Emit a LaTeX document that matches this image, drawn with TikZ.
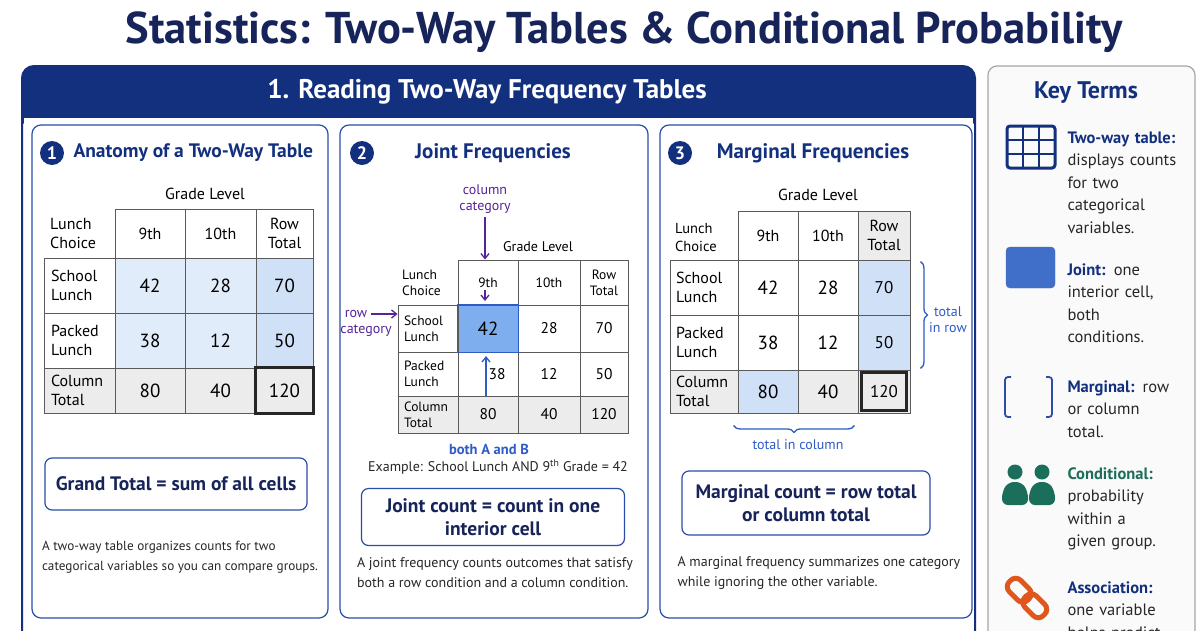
\documentclass[tikz,border=0pt]{standalone}
\usepackage{fontspec}
\setmainfont{PT Sans}
\setsansfont{PT Sans}
\usepackage{tikz}
\usetikzlibrary{arrows.meta, positioning, decorations.pathreplacing, calc}
\definecolor{TitleNavy}{HTML}{17245A}
\definecolor{Navy}{HTML}{13307F}
\definecolor{PanelBlue}{HTML}{2B4FA8}
\definecolor{GridGray}{HTML}{5A5A5A}
\definecolor{LightShade}{HTML}{E1ECFA}
\definecolor{MidShade}{HTML}{CFE0F7}
\definecolor{JointBlue}{HTML}{7FAEEE}
\definecolor{CellGray}{HTML}{ECECEC}
\definecolor{LabelPurple}{HTML}{55249A}
\definecolor{LabelBlue}{HTML}{2E5BC6}
\definecolor{KeyGreen}{HTML}{1B6E5A}
\definecolor{KeyOrange}{HTML}{E0561B}
\definecolor{KeyBlue}{HTML}{3F6FC9}
\tikzset{
  % Panel styles
  mainpanel/.style={draw=Navy, line width=2pt, rounded corners=12pt, fill=white},
  subpanel/.style={draw=PanelBlue, line width=1.2pt, rounded corners=9pt, fill=white},
  notebox/.style={draw=PanelBlue, line width=1.2pt, rounded corners=7pt, fill=white, align=center, text=TitleNavy, font=\fontsize{19.5}{23}\selectfont\bfseries},
  % Text styles
  paneltitle/.style={text=Navy, font=\fontsize{21}{24}\selectfont\bfseries},
  numdot/.style={circle, fill=Navy, text=white, minimum size=24pt, inner sep=0pt, font=\fontsize{18}{18}\selectfont\bfseries},
  caption/.style={text=black!85, align=left, font=\fontsize{14}{20}\selectfont},
  keyterm/.style={anchor=north west, align=left, text width=124pt, font=\fontsize{16.5}{22.5}\selectfont, text=black!85},
  % Table styles
  cell/.style={draw=GridGray, line width=0.9pt, inner sep=0pt, align=center, font=\fontsize{19}{20}\selectfont},
  lcell/.style={cell, align=left, font=\fontsize{16}{19}\selectfont},
  scell/.style={cell, font=\fontsize{15.5}{17}\selectfont},
  slcell/.style={cell, align=left, font=\fontsize{13.5}{16}\selectfont},
  hcell/.style={inner sep=0pt, align=left, font=\fontsize{16}{19}\selectfont},
  % Arrow styles
  purplearrow/.style={-{Straight Barb[length=5pt,width=8pt]}, line width=1.3pt, LabelPurple},
  bluearrow/.style={-{Straight Barb[length=5pt,width=8pt]}, line width=1.3pt, LabelBlue},
  bracebl/.style={decorate, decoration={brace, amplitude=7pt}, line width=1.3pt, LabelBlue}
}
\begin{document}
\begin{tikzpicture}[x=1pt, y=-1pt]
  \useasboundingbox (0,0) rectangle (1200,630);
  \fill[white] (0,0) rectangle (1200,630);

  % Title
  \node[text=TitleNavy, font=\fontsize{44.5}{48}\selectfont\bfseries] (title) at (624,32) {Statistics: Two-Way Tables \& Conditional Probability};

  % Main panel
  \draw[mainpanel] (22,66) rectangle (975,660);
  \fill[Navy, rounded corners=12pt] (22,66) rectangle (975,130);
  \fill[white] (24,118) rectangle (973,140);
  \node[text=white, font=\fontsize{27}{30}\selectfont\bfseries] (sectitle) at (487,92) {1. Reading Two-Way Frequency Tables};

  \draw[subpanel] (32,125) rectangle (328,618);
  \draw[subpanel] (340,125) rectangle (648,618);
  \draw[subpanel] (660,125) rectangle (972,618);

  % Panel titles
  \node[numdot] (n1) at (52,153) {1};
  \node[paneltitle, anchor=west, font=\fontsize{19.5}{24}\selectfont\bfseries] (t1) at (70,153) {Anatomy of a Two-Way Table};
  \node[numdot] (n2) at (362,153) {2};
  \node[paneltitle] (t2) at (493,153) {Joint Frequencies};
  \node[numdot] (n3) at (680,153) {3};
  \node[paneltitle] (t3) at (813,153) {Marginal Frequencies};

  % ---------- Table 1: anatomy ----------
  \fill[LightShade] (115,258) rectangle (256,368);
  \fill[MidShade] (256,258) rectangle (313,368);
  \fill[CellGray] (44,368) rectangle (313,413);
  \node[hcell] (a-grade) at (205,194) {Grade Level};
  \node[hcell, anchor=west] (a-lab) at (50,233.5) {Lunch\\Choice};
  \foreach \cx/\w/\t [count=\i] in {150/70/9th, 220.5/71/10th, 284.5/57/{Row\\Total}}
    \node[lcell, align=center, minimum width=\w pt, minimum height=49pt] (a-h\i) at (\cx,233.5) {\t};
  \foreach \cy/\h/\l/\a/\b/\c [count=\r] in {285.5/55/{School\\Lunch}/42/28/70, 340.5/55/{Packed\\Lunch}/38/12/50, 390.5/45/{Column\\Total}/80/40/120}{
    \node[lcell, text width=57pt, minimum width=71pt, minimum height=\h pt] (a-r\r) at (79.5,\cy) {\l};
    \node[cell, minimum width=70pt, minimum height=\h pt] (a-r\r c1) at (150,\cy) {\a};
    \node[cell, minimum width=71pt, minimum height=\h pt] (a-r\r c2) at (220.5,\cy) {\b};
    \node[cell, minimum width=57pt, minimum height=\h pt] (a-r\r c3) at (284.5,\cy) {\c};
  }
  \draw[line width=2.2pt, black!85] (a-r3c3.north west) rectangle (a-r3c3.south east);

  \node[notebox, minimum width=262pt, minimum height=52pt] (grand) at (176,484) {Grand Total = sum of all cells};
  \node[caption, font=\fontsize{13.2}{20}\selectfont] (cap1) at (180,557) {A two-way table organizes counts for two\\categorical variables so you can compare groups.};

  % ---------- Table 2: joint ----------
  \fill[CellGray] (398,396) rectangle (628,433);
  \fill[JointBlue] (458,305) rectangle (518,352);
  \node[hcell, font=\fontsize{14}{16}\selectfont] (j-grade) at (538,247) {Grade Level};
  \node[hcell, anchor=west, font=\fontsize{13.5}{16}\selectfont] (j-lab) at (402,282.5) {Lunch\\Choice};
  \foreach \cx/\w/\t [count=\i] in {488/60/9th, 549/62/10th, 604/48/{Row\\Total}}
    \node[slcell, align=center, minimum width=\w pt, minimum height=45pt] (j-h\i) at (\cx,282.5) {\t};
  \foreach \cy/\h/\l/\a/\b/\c [count=\r] in {328.5/47/{School\\Lunch}/{\fontsize{19}{20}\selectfont 42}/28/70, 374/44/{Packed\\Lunch}/{\hspace*{18pt}38}/12/50, 414.5/37/{Column\\Total}/80/40/120}{
    \node[slcell, text width=48pt, minimum width=60pt, minimum height=\h pt] (j-r\r) at (428,\cy) {\l};
    \node[scell, minimum width=60pt, minimum height=\h pt] (j-r\r c1) at (488,\cy) {\a};
    \node[scell, minimum width=62pt, minimum height=\h pt] (j-r\r c2) at (549,\cy) {\b};
    \node[scell, minimum width=48pt, minimum height=\h pt] (j-r\r c3) at (604,\cy) {\c};
  }
  \draw[LabelBlue, line width=1pt] (j-r1c1.north west) rectangle (j-r1c1.south east);
  \node[text=LabelPurple, align=center, font=\fontsize{14}{16}\selectfont] (colcat) at (485,199) {column\\category};
  \draw[purplearrow] (colcat) -- (colcat |- j-h1.north);
  \coordinate (ninetip) at (485,301);
  \draw[purplearrow] (485,290) -- (ninetip);
  \node[text=LabelPurple, font=\fontsize{14}{16}\selectfont] (rowtxt) at (356,314) {row};
  \node[text=LabelPurple, font=\fontsize{14}{16}\selectfont] (cattxt) at (366,331) {category};
  \draw[purplearrow] (rowtxt.east) -- (rowtxt.east -| j-r1.west);
  \coordinate (upfoot) at (486,396);
  \draw[bluearrow] (upfoot) -- (486,356);
  \node[text=LabelBlue, font=\fontsize{14.5}{16}\selectfont\bfseries] (both) at (489,449) {both A and B};
  \node[text=black!85, font=\fontsize{14}{16}\selectfont] (example) at (498,467) {Example: School Lunch AND 9\textsuperscript{th} Grade = 42};
  \node[notebox, minimum width=263pt, minimum height=57pt] (jointbox) at (493,517) {Joint count = count in one\\interior cell};
  \node[caption] (cap2) at (495,573) {A joint frequency counts outcomes that satisfy\\both a row condition and a column condition.};

  % ---------- Table 3: marginal ----------
  \fill[CellGray] (670,370) rectangle (910,413);
  \fill[CellGray] (858,211) rectangle (910,260);
  \fill[MidShade] (858,260) rectangle (910,370);
  \fill[MidShade] (738,370) rectangle (798,413);
  \node[hcell] (m-grade) at (818,195) {Grade Level};
  \node[hcell, anchor=west, font=\fontsize{14.5}{18}\selectfont] (m-lab) at (675,238) {Lunch\\Choice};
  \foreach \cx/\w/\t [count=\i] in {768/60/9th, 828/60/10th, 884/52/{Row\\Total}}
    \node[lcell, align=center, minimum width=\w pt, minimum height=49pt] (m-h\i) at (\cx,235.5) {\t};
  \foreach \cy/\h/\l/\a/\b/\c [count=\r] in {287.5/55/{School\\Lunch}/42/28/70, 342.5/55/{Packed\\Lunch}/38/12/50, 391.5/43/{Column\\Total}/80/40/120}{
    \node[lcell, text width=56pt, minimum width=68pt, minimum height=\h pt] (m-r\r) at (704,\cy) {\l};
    \node[cell, minimum width=60pt, minimum height=\h pt] (m-r\r c1) at (768,\cy) {\a};
    \node[cell, minimum width=60pt, minimum height=\h pt] (m-r\r c2) at (828,\cy) {\b};
    \node[cell, minimum width=52pt, minimum height=\h pt, font=\fontsize{17}{18}\selectfont] (m-r\r c3) at (884,\cy) {\c};
  }
  \draw[line width=2.2pt, black!85] ($(m-r3c3.north west)+(4,3)$) rectangle ($(m-r3c3.south east)+(-4,-3)$);
  \draw[bracebl] ($(m-r1c3.north east)+(10,2)$) -- ($(m-r2c3.south east)+(10,-2)$);
  \node[text=LabelBlue, align=center, font=\fontsize{14}{16}\selectfont] (inrow) at (948,320) {total\\in row};
  \draw[bracebl] ($(m-r3c2.south east)+(-4,12)$) -- ($(m-r3c1.south west)+(-4,12)$);
  \node[text=LabelBlue, font=\fontsize{14}{16}\selectfont] (incol) at (798,445) {total in column};
  \node[notebox, minimum width=248pt, minimum height=64pt] (margbox) at (806,503) {Marginal count = row total\\or column total};
  \node[caption, anchor=west] (cap3) at (674,573) {A marginal frequency summarizes one category\\while ignoring the other variable.};

  % ---------- Key terms ----------
  \draw[draw=black!35, line width=1.2pt, fill=black!2, rounded corners=9pt] (988,66) rectangle (1195,660);
  \node[text=Navy, font=\fontsize{24}{26}\selectfont\bfseries] (keyt) at (1086,93) {Key Terms};
  % table icon
  \draw[Navy, line width=3pt, rounded corners=3pt] (1007,126) rectangle (1055,168);
  \foreach \gx in {1023,1039} \draw[Navy, line width=2.4pt] (\gx,126) -- (\gx,168);
  \foreach \gy in {140,154} \draw[Navy, line width=2.4pt] (1007,\gy) -- (1055,\gy);
  \node[keyterm] (k1) at (1064,128) {\textcolor{Navy}{\bfseries Two-way table:}\\displays counts\\for two\\categorical\\variables.};
  % joint icon
  \fill[KeyBlue, draw=Navy!70, rounded corners=4pt] (1006,247) rectangle (1055,288);
  \node[keyterm] (k2) at (1064,260) {\textcolor{Navy}{\bfseries Joint:} one\\interior cell,\\both\\conditions.};
  % marginal icon
  \draw[PanelBlue, line width=1.8pt, rounded corners=3pt] (1011,377) -- (1005,377) -- (1005,417) -- (1011,417);
  \draw[PanelBlue, line width=1.8pt, rounded corners=3pt] (1046,377) -- (1052,377) -- (1052,417) -- (1046,417);
  \node[keyterm] (k3) at (1064,377) {\textcolor{Navy}{\bfseries Marginal:} row\\or column\\total.};
  % conditional icon
  \foreach \px in {1015,1042}{
    \fill[KeyGreen] (\px,472) circle (7.5);
    \fill[KeyGreen, rounded corners=6pt] (\px-13,505) -- (\px-13,492) -- (\px-7,482) -- (\px+7,482) -- (\px+13,492) -- (\px+13,505) -- cycle;
  }
  \node[keyterm] (k4) at (1064,464) {\textcolor{KeyGreen}{\bfseries Conditional:}\\probability\\within a\\given group.};
  % association icon
  \begin{scope}[shift={(1027,598)}, rotate=-45]
    \draw[KeyOrange, line width=5pt, rounded corners=7pt] (-24,-8) rectangle (2,8);
    \draw[KeyOrange, line width=5pt, rounded corners=7pt] (-2,-8) rectangle (24,8);
  \end{scope}
  \node[keyterm] (k5) at (1064,578) {\textcolor{Navy}{\bfseries Association:}\\one variable\\helps predict};
\end{tikzpicture}
\end{document}
